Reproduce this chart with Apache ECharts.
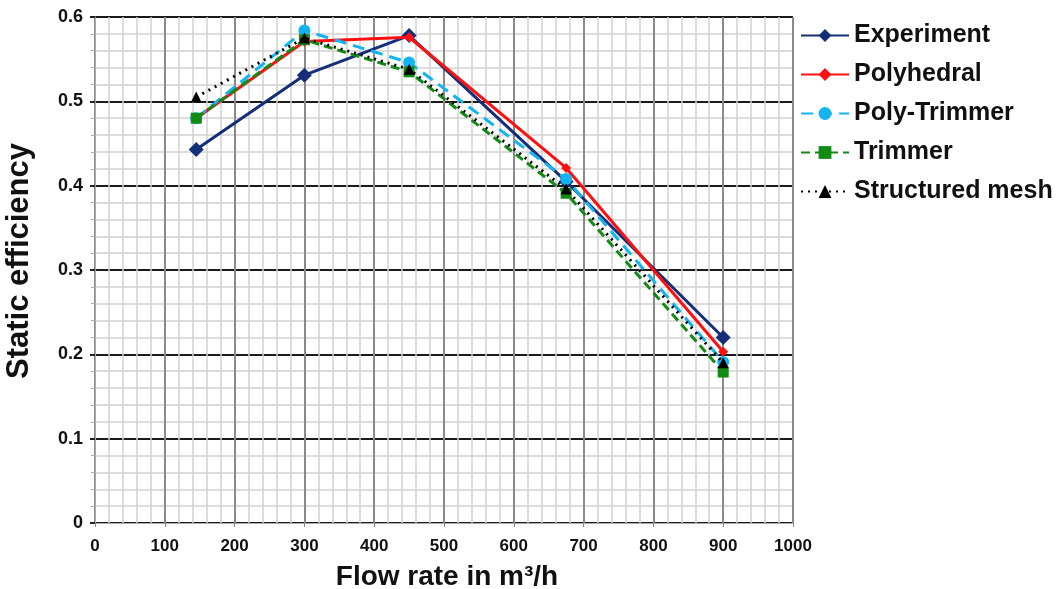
<!DOCTYPE html>
<html><head><meta charset="utf-8">
<script src="https://cdn.jsdelivr.net/npm/echarts@6/dist/echarts.min.js"></script>
<style>html,body{margin:0;padding:0;background:#fff}#c{width:1056px;height:589px}</style>
</head><body><div id="c"></div>
<script>
const flowRates = [145, 300, 450, 675, 900];
const experiment = [0.443, 0.531, 0.578, 0.405, 0.220];
const polyhedral = [0.480, 0.571, 0.576, 0.421, 0.203];
const polyTrimmer = [0.480, 0.584, 0.546, 0.408, 0.191];
const trimmer = [0.480, 0.573, 0.535, 0.391, 0.179];
const structured = [0.505, 0.575, 0.538, 0.396, 0.190];
const seriesNames = ['Experiment', 'Polyhedral', 'Poly-Trimmer', 'Trimmer', 'Structured mesh'];

const pairs = ys => flowRates.map((x, i) => [x, ys[i]]);
const FONT = '"Liberation Sans", Arial, sans-serif';

const chart = echarts.init(document.getElementById('c'), null, {renderer: 'canvas'});
chart.setOption({
  animation: false,
  backgroundColor: '#fff',
  grid: {left: 95, right: 263, top: 17, bottom: 66, containLabel: false, outerBoundsMode: 'none'},
  legend: {
    orient: 'vertical', left: 795, top: 18, itemGap: 14, itemWidth: 48, itemHeight: 16,
    textStyle: {fontFamily: FONT, fontSize: 25, fontWeight: 'bold', color: '#111'},
    data: seriesNames
  },
  xAxis: {
    type: 'value', min: 0, max: 1000, interval: 100,
    name: 'Flow rate in m³/h', nameLocation: 'middle', nameGap: 40,
    nameTextStyle: {fontFamily: FONT, fontSize: 28, fontWeight: 'bold', color: '#111', padding: [0, 0, 0, 6]},
    axisLine: {show: true, lineStyle: {color: '#aaa', width: 1}},
    axisTick: {show: true, length: 4, lineStyle: {color: '#888'}},
    axisLabel: {fontFamily: FONT, fontSize: 17, fontWeight: 'bold', color: '#111', margin: 15,
      formatter: v => String(Math.round(v))},
    splitLine: {show: true, lineStyle: {color: '#8a8a8a', width: 2}},
    minorTick: {show: true, splitNumber: 5, length: 0},
    minorSplitLine: {show: true, lineStyle: {color: '#d2d2d2', width: 1.5}}
  },
  yAxis: {
    type: 'value', min: 0, max: 0.6, interval: 0.1,
    name: 'Static efficiency', nameLocation: 'middle', nameGap: 60,
    nameTextStyle: {fontFamily: FONT, fontSize: 31, fontWeight: 'bold', color: '#111', padding: [0, 0, 0, 18]},
    axisLine: {show: true, lineStyle: {color: '#aaa', width: 1}},
    axisTick: {show: true, length: 5, lineStyle: {color: '#222', width: 2}},
    axisLabel: {fontFamily: FONT, fontSize: 18, fontWeight: 'bold', color: '#111', margin: 12,
      formatter: v => (Math.round(v * 10) / 10).toString()},
    splitLine: {show: true, lineStyle: {color: '#1a1a1a', width: 2}},
    minorTick: {show: true, splitNumber: 5, length: 4, lineStyle: {color: '#aaa'}},
    minorSplitLine: {show: true, lineStyle: {color: '#d2d2d2', width: 1.5}}
  },
  series: [
    {name: 'Experiment', type: 'line', data: pairs(experiment), symbol: 'diamond', symbolSize: 15,
      color: '#142f78', lineStyle: {width: 3, color: '#142f78'}, itemStyle: {color: '#142f78'}, z: 2},
    {name: 'Polyhedral', type: 'line', data: pairs(polyhedral), symbol: 'diamond', symbolSize: 10,
      color: '#ff1010', lineStyle: {width: 3, color: '#ff1010'}, itemStyle: {color: '#ff1010'}, z: 3},
    {name: 'Poly-Trimmer', type: 'line', data: pairs(polyTrimmer), symbol: 'circle', symbolSize: 12,
      color: '#14b4f0', lineStyle: {width: 3, color: '#14b4f0', type: [12, 7]}, itemStyle: {color: '#14b4f0'}, z: 4},
    {name: 'Trimmer', type: 'line', data: pairs(trimmer), symbol: 'rect', symbolSize: 11,
      color: '#138a13', lineStyle: {width: 3, color: '#138a13', type: [9, 5]}, itemStyle: {color: '#138a13'}, z: 5},
    {name: 'Structured mesh', type: 'line', data: pairs(structured), symbol: 'triangle', symbolSize: 11,
      color: '#000', lineStyle: {width: 3, color: '#000', type: [2, 5]}, itemStyle: {color: '#000'}, z: 6}
  ]
});
</script></body></html>
